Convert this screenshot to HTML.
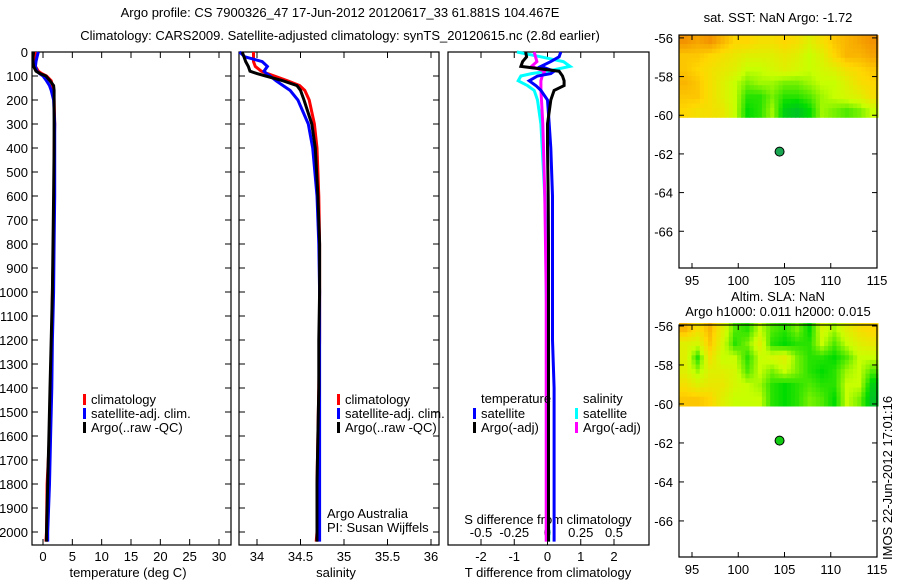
<!DOCTYPE html>
<html><head><meta charset="utf-8"><style>
body{margin:0;background:#fff;width:900px;height:580px;overflow:hidden}
svg text{font-family:"Liberation Sans",sans-serif;font-size:13px;fill:#000}
</style></head><body>
<svg id="s" width="900" height="580" xmlns="http://www.w3.org/2000/svg">
<text x="340" y="17" text-anchor="middle" font-size="14">Argo profile: CS 7900326_47 17-Jun-2012 20120617_33 61.881S 104.467E</text>
<text x="340" y="40" text-anchor="middle" font-size="14">Climatology: CARS2009. Satellite-adjusted climatology: synTS_20120615.nc (2.8d earlier)</text>
<text x="778" y="22" text-anchor="middle" font-size="12">sat. SST: NaN Argo: -1.72</text>
<text x="778" y="301" text-anchor="middle" font-size="12">Altim. SLA: NaN</text>
<text x="778" y="316" text-anchor="middle" font-size="12">Argo h1000: 0.011 h2000: 0.015</text>
<text transform="translate(892,560) rotate(-90)" font-size="12">IMOS 22-Jun-2012 17:01:16</text>
</svg>
<script>
// ---- data ----
const depths=[0,20,40,60,80,90,100,120,140,160,200,300,400,600,800,1000,1200,1400,1600,1800,2000,2040];
const argoT=[-1.6,-1.7,-1.7,-1.6,-1.2,-0.5,0.5,1.2,1.8,1.9,1.9,1.9,1.9,1.8,1.7,1.6,1.4,1.2,1.0,0.8,0.6,0.6];
const climT=[-1.2,-1.3,-1.4,-1.3,-0.8,-0.2,0.6,1.4,1.6,1.8,1.9,2.0,1.9,1.9,1.8,1.6,1.5,1.3,1.1,0.7,0.6,0.5];
const satT=[-0.8,-1.0,-1.2,-1.3,-1.0,-0.6,0.0,0.6,1.1,1.4,1.8,2.0,2.0,2.0,1.9,1.8,1.6,1.5,1.3,1.1,0.8,0.8];
const argoS=[33.83,33.85,33.87,33.9,33.92,34.0,34.1,34.3,34.46,34.5,34.54,34.63,34.67,34.7,34.72,34.72,34.71,34.71,34.7,34.69,34.69,34.69];
const climS=[33.96,33.96,33.96,33.98,34.05,34.12,34.2,34.35,34.49,34.55,34.6,34.66,34.69,34.71,34.72,34.72,34.72,34.71,34.7,34.69,34.69,34.68];
const satS=[33.8,33.86,34.06,34.12,34.08,34.11,34.15,34.22,34.3,34.38,34.47,34.59,34.64,34.69,34.71,34.72,34.72,34.72,34.72,34.72,34.72,34.72];
const diffTsat=[0.4,0.35,0.1,-0.2,0.2,0.1,-0.3,-0.55,-0.35,-0.2,0.0,0.05,0.1,0.15,0.15,0.15,0.15,0.2,0.2,0.2,0.2,0.2];
const diffTargo=[-0.66,-0.63,-0.75,-0.8,0.35,0.4,0.45,0.5,0.5,0.2,0.1,0.0,0.0,0.02,0.03,0.03,0.03,0.03,0.03,0.03,0.03,0.03];
const diffSsat=[-0.23,-0.05,0.12,0.17,0.0,-0.12,-0.2,-0.22,-0.15,-0.1,-0.075,-0.05,-0.04,-0.02,-0.01,-0.01,0.0,0.0,0.0,0.0,0.01,0.01];
const diffSargo=[-0.1,-0.09,-0.08,-0.12,-0.02,-0.03,-0.04,-0.05,-0.05,-0.05,-0.045,-0.035,-0.03,-0.02,-0.015,-0.01,-0.01,-0.01,-0.01,-0.01,-0.01,-0.01];
const depthTicks=[0,100,200,300,400,500,600,700,800,900,1000,1100,1200,1300,1400,1500,1600,1700,1800,1900,2000];
const tTicks=[0,5,10,15,20,25,30];
const sTicks=[34,34.5,35,35.5,36];
const dTTicks=[-2,-1,0,1,2];
const dSTicks=[-0.5,-0.25,0,0.25,0.5];
const latTicks=[-56,-58,-60,-62,-64,-66];
const lonTicks=[95,100,105,110,115];
const sstGrid=[
[.95,.9,.95,.85,.75,.75,.7,.7,.75,.7,.6,.7,.8,.85,.9,.95],
[.8,.8,.75,.7,.65,.6,.6,.6,.65,.6,.5,.6,.75,.85,.85,.9],
[.8,.75,.7,.65,.6,.5,.5,.55,.6,.55,.5,.55,.6,.7,.75,.8],
[.85,.8,.7,.6,.5,.4,.45,.45,.4,.4,.45,.5,.5,.6,.7,.75],
[.8,.8,.7,.6,.5,.3,.3,.4,.3,.3,.35,.45,.5,.55,.6,.7],
[.75,.7,.7,.65,.5,.25,.3,.45,.2,.15,.25,.45,.4,.35,.4,.5]];
const slaGrid=[
[.85,.7,.85,.6,.35,.3,.5,.35,.3,.4,.25,.55,.45,.6,.7,.75],
[.6,.55,.8,.55,.3,.4,.6,.3,.25,.3,.3,.5,.35,.5,.6,.65],
[.6,.3,.7,.5,.5,.3,.5,.55,.6,.4,.3,.3,.25,.35,.5,.5],
[.6,.45,.6,.6,.55,.35,.5,.4,.5,.4,.3,.25,.3,.45,.5,.35],
[.7,.6,.65,.65,.55,.5,.45,.3,.25,.3,.35,.3,.3,.5,.5,.2],
[.8,.8,.75,.6,.5,.5,.5,.3,.25,.3,.4,.35,.25,.5,.4,.15]];
const argoLon=104.467, argoLat=-61.881;
const gridLatTop=-55.85, gridLatBot=-60.1, gridLonL=93.6, gridLonR=115.1;

// ---- helpers ----
const svg=document.getElementById('s');const NS='http://www.w3.org/2000/svg';
function mk(tag,at,parent){const e=document.createElementNS(NS,tag);for(const k in at)e.setAttribute(k,at[k]);(parent||svg).appendChild(e);return e;}
function lin(d0,d1,r0,r1){return v=>r0+(v-d0)*(r1-r0)/(d1-d0);}
const yD=lin(0,2000,52,532);
function txt(x,y,s,anchor,size){const t=mk('text',{x:x,y:y,'text-anchor':anchor||'middle'});if(size)t.setAttribute('font-size',size);t.textContent=s;return t;}
function frame(x0,y0,x1,y1){return mk('rect',{x:x0,y:y0,width:x1-x0,height:y1-y0,fill:'none',stroke:'#000','stroke-width':1.2});}
function profile(xs,xf,col,name){const pts=depths.map((d,i)=>xf(xs[i]).toFixed(1)+','+yD(d).toFixed(1)).join(' ');
 const p=mk('polyline',{points:pts,fill:'none',stroke:col,'stroke-width':3,'stroke-linejoin':'miter'});
 
 }
function depthAxis(x0,x1,labels){depthTicks.forEach(d=>{const y=yD(d);mk('line',{x1:x0,y1:y,x2:x0+6,y2:y,stroke:'#000'});mk('line',{x1:x1,y1:y,x2:x1-6,y2:y,stroke:'#000'});
 if(labels){const t=txt(x0-4,y+5,String(d),'end');}});}
function legendEntry(x,y,col,label){mk('rect',{x:x,y:y-9,width:3,height:11,fill:col});const t=txt(x+8,y+1,label,'start',12);
 
 }

// ---- panel 1 temperature ----
const xT=lin(0,30,43,219);
frame(32,52,231,545);depthAxis(32,231,true);
tTicks.forEach(v=>{const x=xT(v);mk('line',{x1:x,y1:52,x2:x,y2:58,stroke:'#000'});mk('line',{x1:x,y1:545,x2:x,y2:539,stroke:'#000'});
 const t=txt(x,561,String(v));});
const xl1=txt(128,577,'temperature (deg C)');
profile(climT,xT,'#f00','temp-climatology-line');profile(satT,xT,'#00f','temp-satellite-line');profile(argoT,xT,'#000','temp-argo-line');
legendEntry(83,403,'#f00','climatology');legendEntry(83,417,'#00f','satellite-adj. clim.');legendEntry(83,431,'#000','Argo(..raw -QC)');

// ---- panel 2 salinity ----
const xS=lin(34,36,257,431);
frame(239,52,439,545);depthAxis(239,439,false);
sTicks.forEach(v=>{const x=xS(v);mk('line',{x1:x,y1:52,x2:x,y2:58,stroke:'#000'});mk('line',{x1:x,y1:545,x2:x,y2:539,stroke:'#000'});
 const t=txt(x,561,String(v));});
const xl2=txt(336,577,'salinity');
profile(climS,xS,'#f00','sal-climatology-line');profile(satS,xS,'#00f','sal-satellite-line');profile(argoS,xS,'#000','sal-argo-line');
legendEntry(337,403,'#f00','climatology');legendEntry(337,417,'#00f','satellite-adj. clim.');legendEntry(337,431,'#000','Argo(..raw -QC)');
const a1=txt(327,518,'Argo Australia','start',12);
const a2=txt(327,532,'PI: Susan Wijffels','start',12);

// ---- panel 3 differences ----
const xDT=lin(-2,2,481,614), xDS=lin(-0.5,0.5,481,614);
frame(448,52,649,545);
dTTicks.forEach(v=>{const x=xDT(v);mk('line',{x1:x,y1:52,x2:x,y2:58,stroke:'#000'});mk('line',{x1:x,y1:545,x2:x,y2:539,stroke:'#000'});
 const t=txt(x,561,String(v));});
dSTicks.forEach(v=>{const t=txt(xDS(v),537,String(v),'middle',12);});
const sl=txt(548,524,'S difference from climatology','middle',12);
const xl3=txt(548,577,'T difference from climatology');
profile(diffSsat,xDS,'#0ff','sdiff-satellite-line');profile(diffSargo,xDS,'#f0f','sdiff-argo-line');
profile(diffTsat,xDT,'#00f','tdiff-satellite-line');profile(diffTargo,xDT,'#000','tdiff-argo-line');
const h1=txt(481,403,'temperature','start',12);
const h2=txt(583,403,'salinity','start',12);
legendEntry(473,417,'#00f','satellite');legendEntry(473,431,'#000','Argo(-adj)');
legendEntry(575,417,'#0ff','satellite');legendEntry(575,431,'#f0f','Argo(-adj)');

// ---- maps ----
function cmap(v){const st=[[0,[0,160,90]],[0.25,[0,220,0]],[0.5,[200,255,0]],[0.75,[255,215,0]],[1,[240,130,0]]];
 v=Math.max(0,Math.min(1,v));
 for(let i=1;i<st.length;i++){if(v<=st[i][0]){const a=st[i-1],b=st[i],f=(v-a[0])/(b[0]-a[0]);return 'rgb('+a[1].map((c,j)=>Math.round(c+(b[1][j]-c)*f)).join(',')+')';}}return 'rgb(240,130,0)';}
function sample(grid,r,c){const nr=grid.length,nc=grid[0].length;
 r=Math.max(0,Math.min(nr-1,r));c=Math.max(0,Math.min(nc-1,c));
 const r0=Math.floor(r),c0=Math.floor(c),r1=Math.min(nr-1,r0+1),c1=Math.min(nc-1,c0+1),fr=r-r0,fc=c-c0;
 return grid[r0][c0]*(1-fr)*(1-fc)+grid[r0][c1]*(1-fr)*fc+grid[r1][c0]*fr*(1-fc)+grid[r1][c1]*fr*fc;}
function map(top,bot,latTop,latBot,grid,prefix){
 const xL=lin(95,115,692,877), yL=lin(latTop,latBot,top,bot);
 const g=mk('g',{});
 const nr=grid.length,nc=grid[0].length,sub=3;
 const x0=xL(gridLonL),x1=xL(gridLonR),y0=yL(gridLatTop),y1=yL(gridLatBot);
 const NR=nr*sub,NC=nc*sub;const cw=(x1-x0)/NC,ch=(y1-y0)/NR;
 for(let r=0;r<NR;r++)for(let c=0;c<NC;c++){
  const v=sample(grid,(r+0.5)/sub-0.5,(c+0.5)/sub-0.5);
  const cell=mk('rect',{x:x0+c*cw,y:y0+r*ch,width:cw+0.6,height:ch+0.6,fill:cmap(v)},g);
  
  }
 frame(679,top,877,bot);
 latTicks.forEach(v=>{const y=yL(v);mk('line',{x1:679,y1:y,x2:684,y2:y,stroke:'#000'});mk('line',{x1:877,y1:y,x2:872,y2:y,stroke:'#000'});
  const t=txt(673,y+5,String(v),'end',12);});
 lonTicks.forEach(v=>{const x=xL(v);mk('line',{x1:x,y1:top,x2:x,y2:top+5,stroke:'#000'});mk('line',{x1:x,y1:bot,x2:x,y2:bot-5,stroke:'#000'});
  const t=txt(x,bot+17,String(v),'middle',12);});
 const dot=mk('circle',{cx:xL(argoLon),cy:yL(argoLat),r:4.5,fill:prefix==='sst'?'#1aa550':'#11cc11',stroke:'#000','stroke-width':1});
 
 
}
map(35,268,-55.85,-67.9,sstGrid,'sst');
map(325,557,-55.95,-67.85,slaGrid,'sla');
</script>
</body></html>
